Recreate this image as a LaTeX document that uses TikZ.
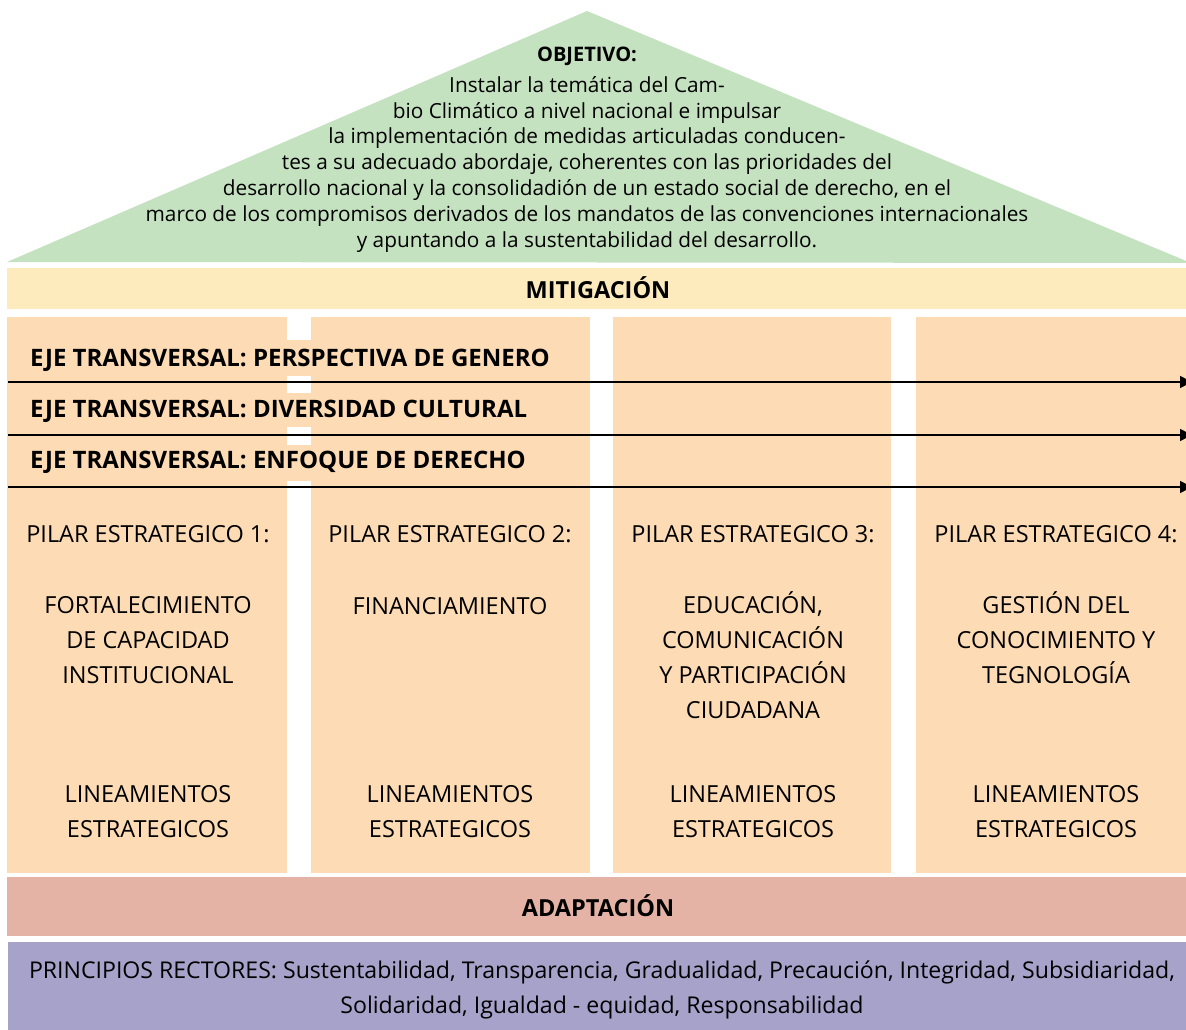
\documentclass[tikz,border=0pt]{standalone}
\usepackage{fontspec}
\setmainfont{Open Sans}
\usetikzlibrary{arrows.meta}
\definecolor{roof}{HTML}{C5E2C0}
\definecolor{mitig}{HTML}{FDEBBE}
\definecolor{pilar}{HTML}{FDDBB4}
\definecolor{adapt}{HTML}{E4B3A5}
\definecolor{princ}{HTML}{A7A2CA}
\begin{document}
\begin{tikzpicture}[x=1pt,y=-1pt,
  txt/.style={inner sep=0pt,anchor=base,text=black},
  coltext/.style={txt,font=\fontsize{23.5}{34.7}\selectfont},
  ejetext/.style={txt,anchor=base west,font=\fontsize{24}{28}\selectfont\bfseries},
  bandtext/.style={txt,font=\fontsize{23.5}{28}\selectfont\bfseries},
  objtext/.style={txt,align=center,font=\fontsize{20.8}{25.8}\selectfont},
  printext/.style={txt,align=center,font=\fontsize{23.1}{34.5}\selectfont},
  ejearrow/.style={line width=1.4pt,-{Triangle[length=12pt,width=12pt]}}]
\useasboundingbox (0,0) rectangle (1186,1030);
% shapes
\fill[roof] (7,262) -- (587,11) -- (1191,263) -- cycle;
\fill[mitig] (7,268) rectangle (1196,309);
\foreach \a/\b in {7/287,311/590,613/891,916/1196}
  \fill[pilar] (\a,317) rectangle (\b,873);
\foreach \t/\u in {340/376,393/427,445/481}
  \fill[pilar] (7,\t) rectangle (590,\u);
\fill[adapt] (7,877) rectangle (1196,936);
\fill[princ] (8,942) rectangle (1196,1030);
% roof text
\node[txt,font=\fontsize{20}{24}\selectfont\bfseries] (obj) at (587,62) {OBJETIVO:};
\node[objtext] (objbody) at (587,247) {Instalar la temática del Cam-\\
bio Climático a nivel nacional e impulsar\\
la implementación de medidas articuladas conducen-\\
tes a su adecuado abordaje, coherentes con las prioridades del\\
desarrollo nacional y la consolidadión de un estado social de derecho, en el\\
marco de los compromisos derivados de los mandatos de las convenciones internacionales\\
y apuntando a la sustentabilidad del desarrollo.};
\node[bandtext] (mit) at (598,298) {MITIGACIÓN};
% ejes
\node[ejetext] (eje1) at (30,366) {EJE TRANSVERSAL: PERSPECTIVA DE GENERO};
\node[ejetext] (eje2) at (30,417) {EJE TRANSVERSAL: DIVERSIDAD CULTURAL};
\node[ejetext] (eje3) at (30,468) {EJE TRANSVERSAL: ENFOQUE DE DERECHO};
\coordinate (e1s) at (8,382);  \coordinate (e1e) at (1192,382);
\coordinate (e2s) at (8,435);  \coordinate (e2e) at (1192,435);
\coordinate (e3s) at (8,487);  \coordinate (e3e) at (1192,487);
\draw[ejearrow] (e1s) -- (e1e);
\draw[ejearrow] (e2s) -- (e2e);
\draw[ejearrow] (e3s) -- (e3e);
% pillars
\node[coltext] (p1h) at (148,542) {PILAR ESTRATEGICO 1:};
\node[coltext] (p2h) at (450,542) {PILAR ESTRATEGICO 2:};
\node[coltext] (p3h) at (753,542) {PILAR ESTRATEGICO 3:};
\node[coltext] (p4h) at (1056,542) {PILAR ESTRATEGICO 4:};
\node[coltext,align=center] (p1b) at (148,683) {FORTALECIMIENTO\\DE CAPACIDAD\\INSTITUCIONAL};
\node[coltext,align=center] (p2b) at (450,614) {FINANCIAMIENTO};
\node[coltext,align=center] (p3b) at (753,718) {EDUCACIÓN,\\COMUNICACIÓN\\Y PARTICIPACIÓN\\CIUDADANA};
\node[coltext,align=center] (p4b) at (1056,683) {GESTIÓN DEL\\CONOCIMIENTO Y\\TEGNOLOGÍA};
\node[coltext,align=center] (p1l) at (148,837) {LINEAMIENTOS\\ESTRATEGICOS};
\node[coltext,align=center] (p2l) at (450,837) {LINEAMIENTOS\\ESTRATEGICOS};
\node[coltext,align=center] (p3l) at (753,837) {LINEAMIENTOS\\ESTRATEGICOS};
\node[coltext,align=center] (p4l) at (1056,837) {LINEAMIENTOS\\ESTRATEGICOS};
% bottom
\node[bandtext] (adp) at (598,916) {ADAPTACIÓN};
\node[printext] (pri) at (602,1013) {PRINCIPIOS RECTORES: Sustentabilidad, Transparencia, Gradualidad, Precaución, Integridad, Subsidiaridad,\\
Solidaridad, Igualdad - equidad, Responsabilidad};
\end{tikzpicture}
\end{document}
